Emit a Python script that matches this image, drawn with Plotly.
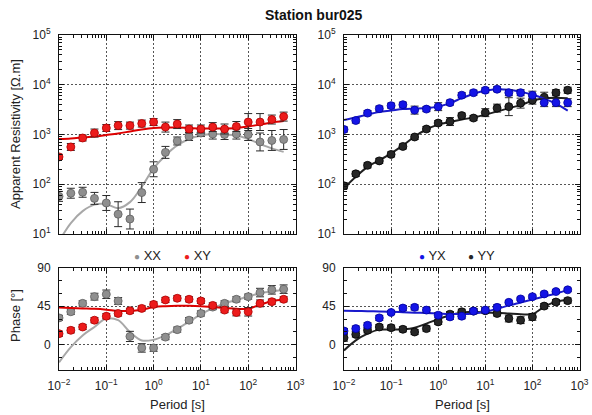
import numpy as np
import plotly.graph_objects as go
from plotly.subplots import make_subplots

# ---- data -------------------------------------------------------------
period = [0.01, 0.0178, 0.0316, 0.0562, 0.1, 0.178, 0.316, 0.562, 1.0, 1.78,
          3.16, 5.62, 10.0, 17.8, 31.6, 56.2, 100.0, 178.0, 316.0, 562.0]

# apparent resistivity [ohm.m]
rho_xx = [57, 66, 69, 52, 42, 25, 20, 68, 200, 437, 741, 912, 1070, 1020,
          1000, 1020, 1000, 708, 759, 794]
rho_xy = [355, 562, 851, 1070, 1350, 1510, 1510, 1660, 1780, 1410, 1620,
          1290, 1290, 1410, 1290, 1450, 1780, 1780, 2000, 2290]
rho_yx = [1260, 1910, 2690, 3310, 3800, 3980, 3090, 3240, 3630, 4370, 6170,
          6920, 7760, 8130, 6920, 6920, 6170, 4370, 4370, 4370]
rho_yy = [93, 162, 240, 295, 398, 575, 891, 1290, 1700, 1820, 2400, 2140,
          2750, 3390, 3630, 4270, 4900, 5620, 6920, 7760]

# resistivity uncertainties [decades]
rho_xx_err = [0.10, 0.10, 0.10, 0.12, 0.15, 0.25, 0.20, 0.20, 0.15, 0.12,
              0.08, 0.08, 0.07, 0.10, 0.10, 0.10, 0.12, 0.18, 0.20, 0.20]
rho_xy_err = [0.05, 0.07, 0.06, 0.08, 0.07, 0.08, 0.07, 0.07, 0.07, 0.10,
              0.09, 0.08, 0.08, 0.09, 0.10, 0.10, 0.17, 0.17, 0.09, 0.09]
rho_yx_err = [0.05, 0.05, 0.05, 0.05, 0.05, 0.05, 0.08, 0.05, 0.08, 0.05,
              0.05, 0.05, 0.05, 0.05, 0.06, 0.06, 0.08, 0.08, 0.08, 0.08]
rho_yy_err = [0.06, 0.05, 0.05, 0.05, 0.05, 0.05, 0.05, 0.05, 0.05, 0.08,
              0.05, 0.05, 0.08, 0.08, 0.18, 0.10, 0.08, 0.10, 0.06, 0.06]

# model responses [ohm.m]
rho_xx_model = [7.1, 16.6, 28.8, 38.9, 39.8, 33.1, 43.7, 89.1, 209, 380, 603,
                813, 955, 1020, 1000, 955, 813, 646, 525, 447]
rho_xy_model = [813, 832, 871, 912, 977, 1050, 1150, 1260, 1350, 1380, 1380,
                1350, 1320, 1320, 1320, 1350, 1450, 1580, 1740, 1860]
rho_yx_model = [1950, 2190, 2510, 2820, 3020, 3240, 3310, 3390, 3630, 4270,
                5370, 6610, 7590, 8130, 7940, 7240, 6310, 5250, 4170, 3020]
rho_yy_model = [83, 141, 224, 302, 417, 603, 912, 1260, 1580, 1780, 2000,
                2190, 2510, 2880, 3390, 3890, 4790, 5370, 5500, 5370]

# phase [deg]
phs_xx = [31.3, 38.5, 48.4, 56.3, 59.1, 51.2, 9.5, -4.0, -4.0, 8.7, 17.5,
          28.6, 36.5, 44.0, 48.4, 53.2, 56.3, 61.1, 64.3, 65.1]
phs_xy = [12.7, 16.7, 20.6, 28.6, 33.3, 36.5, 39.7, 42.5, 47.2, 52.4, 54.4,
          53.2, 51.2, 46.0, 40.5, 37.7, 38.5, 48.4, 50.4, 53.2]
phs_yx = [15.9, 18.7, 22.6, 31.3, 37.7, 42.9, 43.7, 40.5, 34.5, 32.5, 33.3,
          39.3, 40.5, 43.7, 49.6, 53.6, 56.3, 59.5, 62.3, 64.3]
phs_yy = [7.9, 11.9, 16.7, 20.6, 19.8, 17.9, 14.7, 18.7, 26.6, 35.7, 38.5,
          39.3, 39.7, 36.5, 30.6, 28.6, 32.5, 45.2, 50.0, 51.6]

phs_xx_err = [3, 3, 3, 4, 5, 4, 6, 5, 4, 3, 3, 3, 3, 3, 3, 3, 3, 5, 5, 5]
phs_xy_err = [3, 3, 3, 3, 3, 3, 3, 3, 3, 3, 3, 3, 3, 3, 3, 4, 5, 4, 3, 3]
phs_yx_err = [3, 3, 3, 3, 2, 3, 3, 3, 3, 3, 3, 3, 3, 3, 2, 2, 2, 2, 2, 2]
phs_yy_err = [4, 3, 3, 3, 3, 3, 3, 3, 3, 3, 3, 3, 3, 3, 4, 4, 4, 3, 3, 3]

phs_xx_model = [-21, -3, 10.7, 20.6, 30.5, 28.6, 14.7, 4.8, 5.6, 10.7, 18.7,
                26.6, 35.7, 42.5, 48.4, 52.4, 56.3, 60.3, 62.3, 64.3]
phs_xy_model = [43.5, 43, 42.5, 42, 41, 39.5, 39.5, 41, 44, 45, 45.5, 45.5,
                45, 44, 43, 42, 42, 47, 51, 53]
phs_yx_model = [39.7, 39.5, 39.2, 38.9, 38.5, 38, 37.5, 37, 36.5, 36, 35.8,
                36.5, 38.5, 42, 46, 49.5, 53, 56.5, 60, 64]
phs_yy_model = [-7, 4.8, 12.7, 17.5, 17.5, 17.9, 19.8, 24.6, 29.8, 34.5,
                37.3, 38.5, 37.7, 37.3, 36.5, 35.7, 35.7, 44.4, 50.4, 52.4]

period_ticks = [0.01, 0.1, 1, 10, 100, 1000]
period_ticktext = ["10<sup>−2</sup>", "10<sup>−1</sup>", "10<sup>0</sup>",
                   "10<sup>1</sup>", "10<sup>2</sup>", "10<sup>3</sup>"]
rho_ticks = [10, 100, 1000, 10000, 100000]
rho_ticktext = ["10<sup>1</sup>", "10<sup>2</sup>", "10<sup>3</sup>",
                "10<sup>4</sup>", "10<sup>5</sup>"]
phase_ticks = [0, 45, 90]

# ---- styling ----------------------------------------------------------
FONT = "Liberation Sans"
COMP = {
    "XX": dict(fill="#8f8f8f", edge="#606060", line="#a8a8a8"),
    "XY": dict(fill="#ec1c1c", edge="#b00000", line="#dd0000"),
    "YX": dict(fill="#1414e6", edge="#0000a0", line="#1a1acc"),
    "YY": dict(fill="#262626", edge="#000000", line="#202020"),
}

fig = make_subplots(rows=2, cols=2)


def decade_err(vals, dex):
    v = np.asarray(vals, float)
    d = np.asarray(dex, float)
    return v * (10 ** d - 1), v * (1 - 10 ** (-d))


def add_component(name, row, col, obs, err, model, log_err):
    c = COMP[name]
    fig.add_trace(go.Scatter(
        x=period, y=model, mode="lines", line=dict(color=c["line"], width=2),
        line_shape="spline", showlegend=False, hoverinfo="skip"),
        row=row, col=col)
    if log_err:
        up, dn = decade_err(obs, err)
        ey = dict(type="data", array=up, arrayminus=dn, symmetric=False)
    else:
        ey = dict(type="data", array=err)
    ey.update(color="#2a2a2a", thickness=1, width=4)
    fig.add_trace(go.Scatter(
        x=period, y=obs, mode="markers", name=name,
        marker=dict(size=8, color=c["fill"], line=dict(color=c["edge"], width=0.8)),
        error_y=ey, showlegend=False),
        row=row, col=col)


# resistivity
add_component("XX", 1, 1, rho_xx, rho_xx_err, rho_xx_model, True)
add_component("XY", 1, 1, rho_xy, rho_xy_err, rho_xy_model, True)
add_component("YY", 1, 2, rho_yy, rho_yy_err, rho_yy_model, True)
add_component("YX", 1, 2, rho_yx, rho_yx_err, rho_yx_model, True)
# phase
add_component("XX", 2, 1, phs_xx, phs_xx_err, phs_xx_model, False)
add_component("XY", 2, 1, phs_xy, phs_xy_err, phs_xy_model, False)
add_component("YY", 2, 2, phs_yy, phs_yy_err, phs_yy_model, False)
add_component("YX", 2, 2, phs_yx, phs_yx_err, phs_yx_model, False)

W, H = 592, 415
xdom = [[59 / W, 295.5 / W], [344 / W, 579.5 / W]]
ydom = [[1 - 234 / H, 1 - 35 / H], [1 - 370 / H, 1 - 268 / H]]

minor_log = [m * 10.0 ** e for e in range(-3, 6) for m in range(2, 10)]

common = dict(
    showline=True, linecolor="#111", linewidth=1, mirror="allticks",
    ticks="inside", ticklen=5, tickwidth=1, tickcolor="#111",
    showgrid=True, gridcolor="#555", griddash="2px,2px", gridwidth=1,
    zeroline=False, tickfont=dict(family=FONT, size=12, color="#222"),
    ticklabelstandoff=5, automargin=False,
)

for r in (1, 2):
    for cidx in (1, 2):
        fig.update_xaxes(
            type="log", range=[-2, 3], domain=xdom[cidx - 1],
            tickmode="array", tickvals=period_ticks, ticktext=period_ticktext,
            showticklabels=(r == 2),
            minor=dict(tickmode="array", tickvals=minor_log, ticks="inside",
                       ticklen=3, tickcolor="#111", showgrid=False),
            row=r, col=cidx, **common)
    fig.update_yaxes(
        type="log", range=[1, 5], domain=ydom[0],
        tickmode="array", tickvals=rho_ticks, ticktext=rho_ticktext,
        minor=dict(tickmode="array", tickvals=minor_log, ticks="inside",
                   ticklen=3, tickcolor="#111", showgrid=False),
        row=1, col=r, **common)
    fig.update_yaxes(
        range=[-30, 90], domain=ydom[1],
        tickmode="array", tickvals=phase_ticks,
        minor=dict(dtick=15, ticks="inside", ticklen=3, tickcolor="#111",
                   showgrid=False),
        row=2, col=r, **common)


def label(text, x, y, size=13, angle=0, color="#222", anchor="center"):
    return dict(text=text, x=x / W, y=1 - y / H, xref="paper", yref="paper",
                xanchor=anchor, yanchor="middle", showarrow=False,
                textangle=angle, font=dict(family=FONT, size=size, color=color))


def key(name, x):
    # compact legend entry: coloured bullet followed by the component name
    bullet = f"<span style='color:{COMP[name]['fill']};font-size:10px'>●</span>"
    return label(f"{bullet} {name}", x, 255, size=13, anchor="left")


fig.update_layout(
    width=W, height=H,
    margin=dict(l=0, r=0, t=0, b=0, pad=0, autoexpand=False),
    paper_bgcolor="white", plot_bgcolor="white",
    font=dict(family=FONT, size=12, color="#222"),
    showlegend=False,
    annotations=[
        label("<b>Station bur025</b>", 313, 15, size=14, color="#111"),
        label("Apparent Resistivity [Ω.m]", 15, 134, angle=-90),
        label("Phase [°]", 15, 316, angle=-90),
        label("Period [s]", 177, 404),
        label("Period [s]", 462, 404),
        key("XX", 132), key("XY", 182),
        key("YX", 417), key("YY", 466),
    ],
)

fig.write_html("out.html")
